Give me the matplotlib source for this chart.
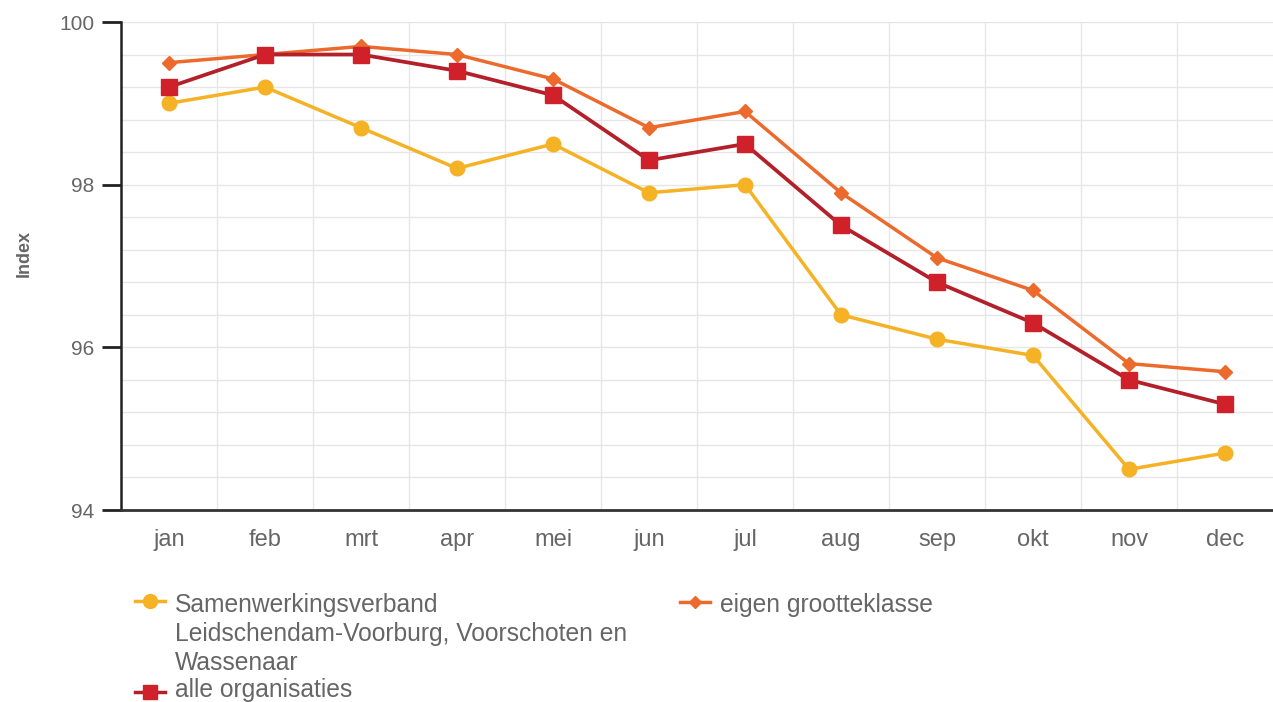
import matplotlib.pyplot as plt
from matplotlib.lines import Line2D
from matplotlib.ticker import MultipleLocator, FixedLocator

plt.rcParams['font.family'] = ['Liberation Sans', 'DejaVu Sans']

months = ["jan", "feb", "mrt", "apr", "mei", "jun", "jul", "aug", "sep", "okt", "nov", "dec"]
samenwerking = [99.0, 99.2, 98.7, 98.2, 98.5, 97.9, 98.0, 96.4, 96.1, 95.9, 94.5, 94.7]
alle_orgs = [99.2, 99.6, 99.6, 99.4, 99.1, 98.3, 98.5, 97.5, 96.8, 96.3, 95.6, 95.3]
eigen_klasse = [99.5, 99.6, 99.7, 99.6, 99.3, 98.7, 98.9, 97.9, 97.1, 96.7, 95.8, 95.7]

label_sam = "Samenwerkingsverband\nLeidschendam-Voorburg, Voorschoten en\nWassenaar"
label_alle = "alle organisaties"
label_eigen = "eigen grootteklasse"

YELLOW = "#f4b224"
RED_LINE = "#b3202a"
RED_MARK = "#d0202a"
ORANGE = "#ec6a2c"
TEXT = "#666666"

fig = plt.figure(figsize=(12.73, 7.02), dpi=100)
ax = fig.add_axes([121 / 1273, 1 - 510 / 702, 1 - 121 / 1273, (510 - 22) / 702])

x = range(len(months))
ax.plot(x, samenwerking, color=YELLOW, lw=2.5, marker="o", ms=10.5, zorder=3)
ax.plot(x, eigen_klasse, color=ORANGE, lw=2.5, marker="D", ms=7.5, zorder=4)
ax.plot(x, alle_orgs, color=RED_LINE, lw=2.7, marker="s", ms=11.5,
        markerfacecolor=RED_MARK, markeredgecolor=RED_MARK, zorder=5)

ax.set_xlim(-0.5, 11.5)
ax.set_ylim(94, 100)
ax.set_xticks(list(x))
ax.set_xticklabels(months)
ax.xaxis.set_minor_locator(FixedLocator([i + 0.5 for i in range(11)]))
ax.yaxis.set_major_locator(MultipleLocator(2))
ax.yaxis.set_minor_locator(MultipleLocator(0.4))

ax.grid(which="minor", color="#e6e6e6", lw=1)
ax.grid(which="major", axis="y", color="#e6e6e6", lw=1)
ax.set_axisbelow(True)

ax.tick_params(axis="x", which="both", length=0, labelsize=17, labelcolor=TEXT, pad=14)
ax.tick_params(axis="y", which="major", length=14, width=2, color="#222222",
               labelsize=15, labelcolor=TEXT, pad=5)
ax.tick_params(axis="y", which="minor", length=0)

for side in ["top", "right"]:
    ax.spines[side].set_visible(False)
ax.spines["left"].set_color("#222222")
ax.spines["left"].set_linewidth(1.8)
ax.spines["bottom"].set_color("#333333")
ax.spines["bottom"].set_linewidth(2)

ax.set_ylabel("Index", fontsize=13, fontweight="bold", color=TEXT)
ax.yaxis.set_label_coords(-0.077, 0.525)


def legend_entry(x0, y_mark, y_text, color, marker, ms, text, mfc=None):
    fx = lambda px: px / 1273
    fy = lambda py: 1 - py / 702
    fig.add_artist(Line2D([fx(x0), fx(x0 + 30)], [fy(y_mark), fy(y_mark)], color=color, lw=2.5,
                          transform=fig.transFigure))
    fig.add_artist(Line2D([fx(x0 + 15)], [fy(y_mark)], color=mfc or color, marker=marker, ms=ms,
                          transform=fig.transFigure))
    fig.text(fx(x0 + 40), fy(y_text), text, fontsize=17.7, color=TEXT, va="top",
             linespacing=1.27, transform=fig.transFigure)


legend_entry(135, 601, 593, YELLOW, "o", 10, label_sam)
legend_entry(135, 692, 678, RED_LINE, "s", 10, label_alle, mfc=RED_MARK)
legend_entry(680, 602, 593, ORANGE, "D", 6.5, label_eigen)

fig.savefig("out.png", dpi=100, facecolor="white")
